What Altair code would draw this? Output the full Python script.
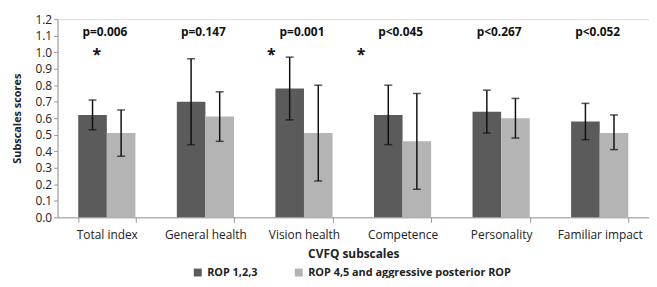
import altair as alt
import pandas as pd

categories = ["Total index", "General health", "Vision health", "Competence", "Personality", "Familiar impact"]
groups = ["ROP 1,2,3", "ROP 4,5 and aggressive posterior ROP"]
rop123 = [0.62, 0.70, 0.78, 0.62, 0.64, 0.58]
rop123_lo = [0.53, 0.44, 0.59, 0.44, 0.51, 0.47]
rop123_hi = [0.71, 0.96, 0.97, 0.80, 0.77, 0.69]
rop45 = [0.51, 0.61, 0.51, 0.46, 0.60, 0.51]
rop45_lo = [0.37, 0.46, 0.22, 0.17, 0.48, 0.41]
rop45_hi = [0.65, 0.76, 0.80, 0.75, 0.72, 0.62]
p_labels = ["p=0.006", "p=0.147", "p=0.001", "p<0.045", "p<0.267", "p<0.052"]
star_cats = ["Total index", "Vision health", "Competence"]
y_ticks = [0.0, 0.1, 0.2, 0.3, 0.4, 0.5, 0.6, 0.7, 0.8, 0.9, 1.0, 1.1, 1.2]
p_level = 1.12
star_level = 1.0

FONT = "Open Sans"

rows = []
for i, c in enumerate(categories):
    rows.append({"cat": c, "grp": groups[0], "v": rop123[i], "lo": rop123_lo[i], "hi": rop123_hi[i]})
    rows.append({"cat": c, "grp": groups[1], "v": rop45[i], "lo": rop45_lo[i], "hi": rop45_hi[i]})
df = pd.DataFrame(rows)
pdf = pd.DataFrame({"cat": categories, "p": p_labels, "y": [p_level] * len(categories)})

xaxis = alt.Axis(labelAngle=0, labelFontSize=12, labelColor="#222", labelFont=FONT,
                 titleFont=FONT, titleFontSize=12, titleFontWeight="bold", titleColor="#222",
                 titlePadding=9, labelPadding=7,
                 domainColor="#999", tickColor="#999", tickBand="extent", tickSize=5)
yaxis = alt.Axis(values=y_ticks, format=".1f", grid=False, labelOverlap=False, tickCount=13,
                 labelFontSize=12, labelColor="#222", labelFont=FONT,
                 titleFont=FONT, titleFontSize=11, titleFontWeight="bold", titleColor="#222",
                 titlePadding=12, domainColor="#999", tickColor="#999", tickSize=4)
xscale = alt.Scale(paddingInner=0.42, paddingOuter=0.21)
yscale = alt.Scale(domain=[0, 1.2])


def X():
    return alt.X("cat:N", sort=categories, title="CVFQ subscales", scale=xscale, axis=xaxis)


def Y(field):
    return alt.Y(field, title="Subscales scores", scale=yscale, axis=yaxis)


xoff = alt.XOffset("grp:N", sort=groups)

bars = alt.Chart(df).mark_bar().encode(
    x=X(),
    xOffset=xoff,
    y=Y("v:Q"),
    color=alt.Color("grp:N", sort=groups, title=None,
                    scale=alt.Scale(domain=groups, range=["#5b5b5b", "#b4b4b4"]),
                    legend=alt.Legend(orient="none", legendX=136, legendY=250, direction="horizontal",
                                      symbolType="square", symbolSize=64, symbolStrokeWidth=0,
                                      labelFont=FONT, labelFontSize=11, labelFontWeight="bold",
                                      labelColor="#222", columnPadding=36, labelOffset=4, labelLimit=0)),
)

rules = alt.Chart(df).mark_rule(color="#111", strokeWidth=1.5).encode(
    x=X(), xOffset=xoff, y=Y("lo:Q"), y2="hi:Q")
caps_lo = alt.Chart(df).mark_tick(color="#111", thickness=1.5, size=8).encode(
    x=X(), xOffset=xoff, y=Y("lo:Q"))
caps_hi = alt.Chart(df).mark_tick(color="#111", thickness=1.5, size=8).encode(
    x=X(), xOffset=xoff, y=Y("hi:Q"))

ptext = alt.Chart(pdf).mark_text(font=FONT, fontSize=12, fontWeight="bold", color="#111", dx=-2).encode(
    x=X(), y=Y("y:Q"), text="p:N")

star_dx = [-10, -33, -42]
stars = []
for c, d in zip(star_cats, star_dx):
    sdf = pd.DataFrame({"cat": [c], "y": [star_level], "t": ["*"]})
    stars.append(alt.Chart(sdf).mark_text(font=FONT, fontSize=16, fontWeight="bold", color="#111",
                                          dx=d, dy=3).encode(
        x=X(), y=Y("y:Q"), text="t:N"))

chart = alt.layer(bars, rules, caps_lo, caps_hi, ptext, *stars).properties(
    width=597, height=200,
    autosize=alt.AutoSizeParams(type="none"),
    padding={"left": 50, "top": 10, "right": 0, "bottom": 60},
).configure_view(stroke=None).configure(background="white")

chart.save("out.html", embed_options={"renderer": "svg", "actions": False})
